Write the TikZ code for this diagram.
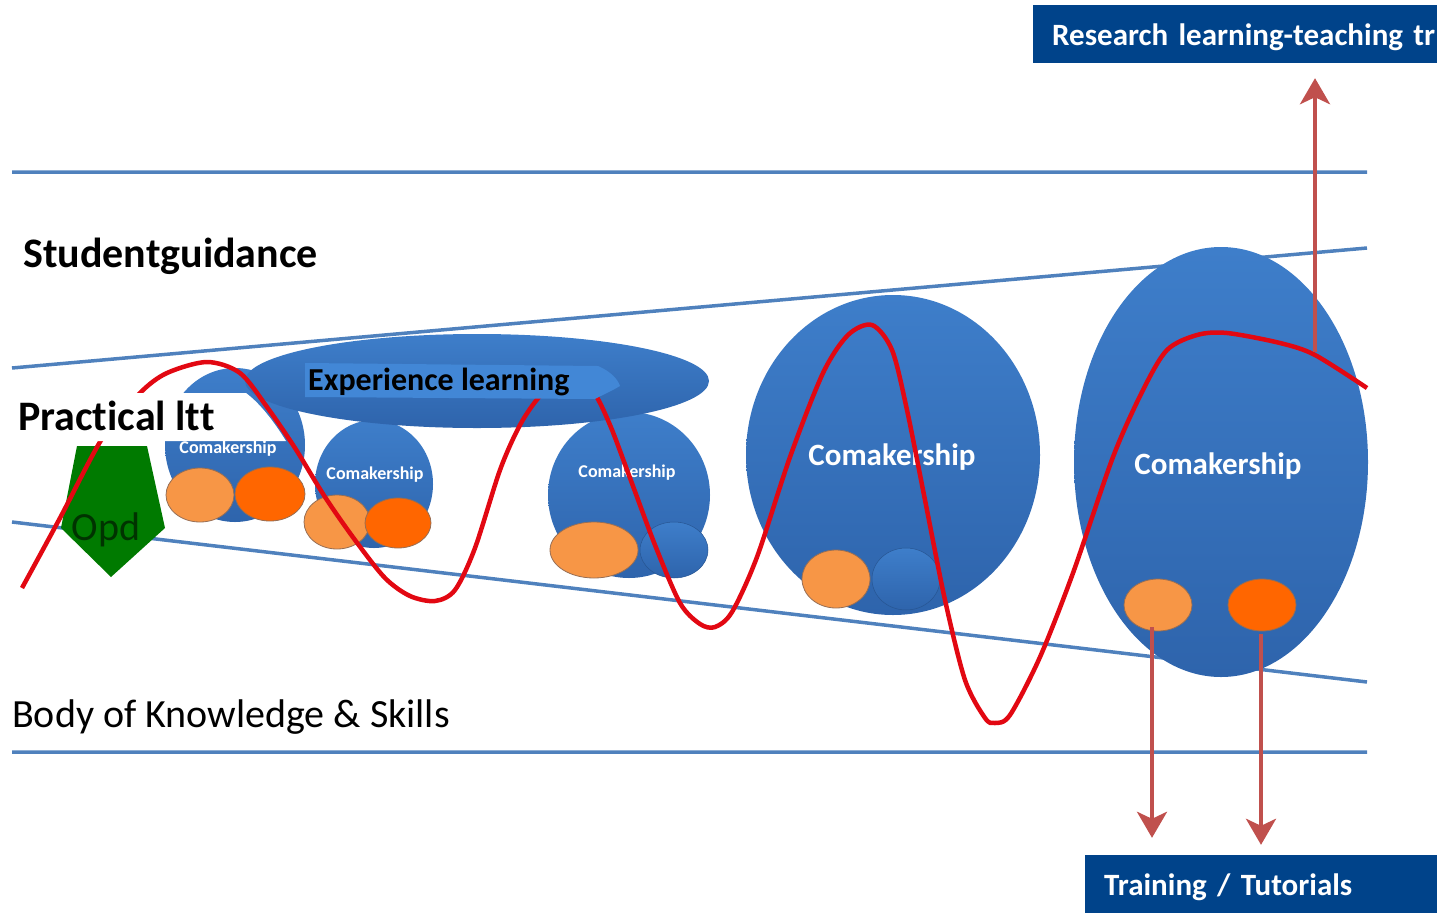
\documentclass[tikz,border=0pt]{standalone}
\usepackage{fontspec}
\setmainfont{Carlito}[Ligatures=NoCommon]
\usetikzlibrary{shapes.geometric,arrows.meta}
\definecolor{lineblue}{RGB}{79,129,189}
\definecolor{blobtop}{RGB}{62,126,202}
\definecolor{blobbot}{RGB}{46,100,172}
\definecolor{orangelight}{RGB}{247,150,70}
\definecolor{orangedark}{RGB}{255,102,0}
\definecolor{orangeedge}{RGB}{150,110,85}
\definecolor{opdgreen}{RGB}{0,122,0}
\definecolor{curvered}{RGB}{226,8,18}
\definecolor{arrowred}{RGB}{192,80,77}
\definecolor{boxblue}{RGB}{0,67,138}
\definecolor{labelblue}{RGB}{66,135,214}

\begin{document}
\begin{tikzpicture}[x=1pt,y=-1pt,
  band/.style={draw=lineblue,line width=3.5pt},
  blob/.style={ellipse,inner sep=0pt,top color=blobtop,bottom color=blobbot},
  dotlight/.style={ellipse,inner sep=0pt,fill=orangelight,draw=orangeedge,line width=0.8pt},
  dotdark/.style={ellipse,inner sep=0pt,fill=orangedark,draw=orangeedge,line width=0.8pt},
  dotblue/.style={blob,draw=blobbot!85!black,line width=0.5pt},
  comak/.style={text=white,font=\bfseries\fontsize{18}{20}\selectfont},
  comakbig/.style={text=white,font=\bfseries\fontsize{31}{36}\selectfont},
  title/.style={anchor=base west,inner sep=0pt,font=\bfseries\fontsize{42}{50}\selectfont},
  darkbox/.style={anchor=west,fill=boxblue,text=white,inner xsep=19pt,inner ysep=0pt,
    minimum height=58pt,text height=26pt,text depth=4pt,align=left,
    font=\bfseries\fontsize{31}{36}\selectfont},
  curve/.style={draw=curvered,line width=4.5pt},
  uparrow/.style={draw=arrowred,line width=4pt,-{Stealth[length=26pt,width=30pt,inset=7pt]}}]
  \useasboundingbox (0,0) rectangle (1437,913);

  \draw[band] (12,172) -- (1367,172)
              (12,368) -- (1367,248)
              (12,522) -- (1367,682)
              (12,752) -- (1367,752);

  \node[title] (guide) at (23,267) {Studentguidance};
  \node[title,font=\fontsize{40}{48}\selectfont] (body) at (12,727) {Body of Knowledge \& Skills};

  \fill[opdgreen] (77,446) -- (147,446) -- (165,528) -- (111,577) -- (61,528) -- cycle;
  \node[font=\fontsize{40}{48}\selectfont,text=black!80!green] (opd) at (106,530) {Opd};

  \node[blob,minimum width=140pt,minimum height=154pt] (c1) at (235,445) {};
  \node[dotlight,minimum width=68pt,minimum height=54pt] (c1a) at (200,495) {};
  \node[dotdark,minimum width=70pt,minimum height=54pt] (c1b) at (270,494) {};

  \node[blob,minimum width=118pt,minimum height=128pt] (c2) at (374,484) {};
  \node[dotlight,minimum width=66pt,minimum height=54pt] (c2a) at (337,522) {};
  \node[dotdark,minimum width=66pt,minimum height=50pt] (c2b) at (398,523) {};
  \node[comak] (t2) at (375,475) {Comakership};

  \node[blob,minimum width=162pt,minimum height=166pt] (c3) at (629,495) {};
  \node[dotblue,minimum width=68pt,minimum height=56pt] (c3b) at (674,550) {};
  \node[dotlight,minimum width=88pt,minimum height=56pt] (c3a) at (594,550) {};
  \node[comak] (t3) at (627,473) {Comakership};

  \node[blob,minimum width=464pt,minimum height=94pt] (exp) at (477,381) {};

  \node[blob,minimum width=294pt,minimum height=320pt] (c4) at (893,455) {};
  \node[dotblue,minimum width=68pt,minimum height=62pt] (c4b) at (906,579) {};
  \node[dotlight,minimum width=68pt,minimum height=58pt] (c4a) at (836,579) {};
  \node[comakbig] (t4) at (892,457) {Comakership};

  \node[blob,minimum width=294pt,minimum height=430pt] (c5) at (1221,462) {};
  \node[dotlight,minimum width=68pt,minimum height=52pt] (c5a) at (1158,605) {};
  \node[dotdark,minimum width=68pt,minimum height=52pt] (c5b) at (1262,605) {};
  \node[comakbig] (t5) at (1218,466) {Comakership};

  \draw[curve] plot[smooth,tension=0.5] coordinates {
    (22,588) (60,518) (103,437) (140,393) (167,373) (207,362) (240,373)
    (267,407) (295,448) (325,497) (355,540) (385,578) (410,596) (435,601)
    (455,590) (475,548) (500,470) (520,425) (540,396) (566,374) (592,390)
    (610,425) (630,478) (655,545) (680,603) (700,624) (715,627) (732,612)
    (757,557) (790,457) (823,373) (848,335) (872,325) (892,350) (907,410)
    (925,500) (945,600) (965,680) (985,718) (995,723) (1010,715) (1040,657)
    (1073,573) (1113,457) (1143,390) (1167,350) (1197,335) (1227,333)
    (1280,343) (1315,355) (1367,388)};

  \fill[labelblue] (305,363) -- (598,366) .. controls (612,372) and (618,380) .. (620,386)
    .. controls (610,392) and (600,396) .. (595,399) -- (305,397) -- cycle;
  \node[title,font=\bfseries\fontsize{32}{38}\selectfont] (explab) at (308,390) {Experience learning};

  \fill[white] (14,393) -- (246,393) .. controls (262,405) and (276,425) .. (286,441) -- (14,441) -- cycle;
  \node[title] (prac) at (18,430) {Practical ltt};
  \node[comak] (t1) at (228,449) {Comakership};

  \node[darkbox,minimum width=430pt,text width=392pt] (research) at (1033,34) {Research learning-teaching tr};
  \node[darkbox,minimum width=380pt,text width=342pt] (train) at (1085,884) {Training / Tutorials};

  \coordinate (rise) at (1315,352);
  \coordinate (drop1) at (1152,627);
  \coordinate (drop2) at (1261,634);
  \draw[uparrow,shorten >=15pt] (rise) -- (rise |- research.south);
  \draw[uparrow,shorten >=17pt] (drop1) -- (drop1 |- train.north);
  \draw[uparrow,shorten >=10pt] (drop2) -- (drop2 |- train.north);
\end{tikzpicture}
\end{document}
